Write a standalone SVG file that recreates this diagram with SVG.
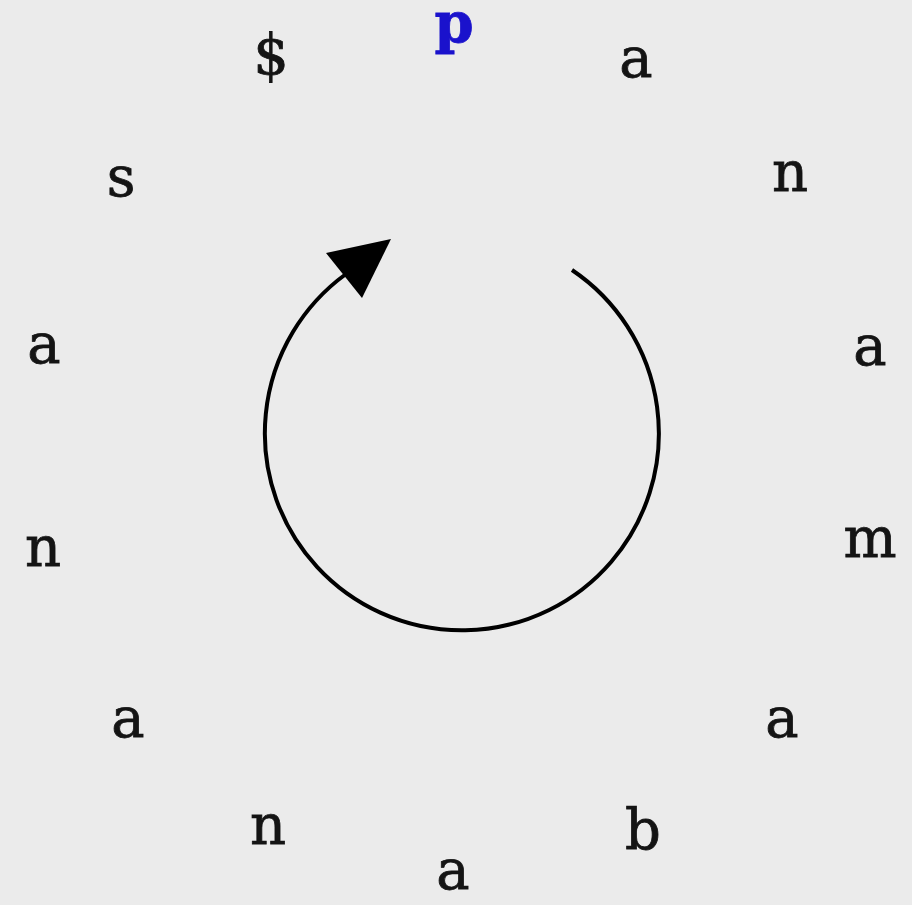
<svg xmlns="http://www.w3.org/2000/svg" width="912" height="905" viewBox="0 0 912 905">
<style>
.ch{font-family:"DejaVu Serif","Liberation Serif",serif;font-size:56px;fill:#141414;stroke:#141414;stroke-width:0.8;text-anchor:middle}
.hl{fill:#1a12cc;stroke:#1a12cc;font-weight:bold}
.arc{fill:none;stroke:#000;stroke-width:4}
</style>
<rect width="912" height="905" fill="#ebebeb"/>
<g id="connectors">
<path class="arc" d="M 572 270 A 197 197 0 1 1 346 274"/>
<polygon points="391,239 326,253 362,298" fill="#000"/>
</g>
<g id="c0"><text class="ch hl" x="454" y="42">p</text></g>
<g id="c1"><text class="ch" x="636" y="77">a</text></g>
<g id="c2"><text class="ch" x="790" y="191">n</text></g>
<g id="c3"><text class="ch" x="870" y="365">a</text></g>
<g id="c4"><text class="ch" x="870" y="557">m</text></g>
<g id="c5"><text class="ch" x="782" y="737">a</text></g>
<g id="c6"><text class="ch" x="643" y="849">b</text></g>
<g id="c7"><text class="ch" x="453" y="889">a</text></g>
<g id="c8"><text class="ch" x="268" y="844">n</text></g>
<g id="c9"><text class="ch" x="128" y="737">a</text></g>
<g id="c10"><text class="ch" x="43" y="566">n</text></g>
<g id="c11"><text class="ch" x="44" y="363">a</text></g>
<g id="c12"><text class="ch" x="121" y="196">s</text></g>
<g id="c13"><text class="ch" x="271" y="74">$</text></g>
</svg>
